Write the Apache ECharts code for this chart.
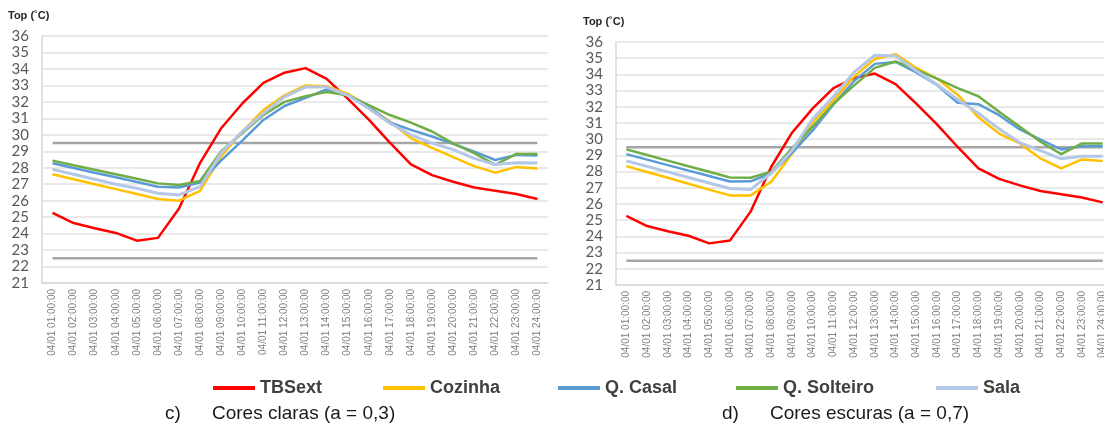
<!DOCTYPE html>
<html><head><meta charset="utf-8">
<script src="https://cdn.jsdelivr.net/npm/echarts@6/dist/echarts.min.js"></script>
<style>html,body{margin:0;padding:0;background:#fff}#c{width:1104px;height:435px}</style>
</head><body><div id="c"></div>
<script>
const categories = ['04/01 01:00:00','04/01 02:00:00','04/01 03:00:00','04/01 04:00:00','04/01 05:00:00','04/01 06:00:00',
  '04/01 07:00:00','04/01 08:00:00','04/01 09:00:00','04/01 10:00:00','04/01 11:00:00','04/01 12:00:00',
  '04/01 13:00:00','04/01 14:00:00','04/01 15:00:00','04/01 16:00:00','04/01 17:00:00','04/01 18:00:00',
  '04/01 19:00:00','04/01 20:00:00','04/01 21:00:00','04/01 22:00:00','04/01 23:00:00','04/01 24:00:00'];

const tbsext = [25.26,24.64,24.32,24.04,23.57,23.74,25.53,28.3,30.4,31.9,33.15,33.77,34.05,33.4,32.2,30.92,29.52,28.2,27.55,27.15,26.8,26.6,26.4,26.1];

// c) Cores claras
const cozinhaC  = [27.6,27.3,27.0,26.7,26.4,26.1,26.0,26.6,28.7,30.2,31.5,32.4,33.0,32.95,32.5,31.7,30.8,29.8,29.2,28.65,28.1,27.7,28.05,27.95];
const casalC    = [28.27,27.98,27.7,27.42,27.13,26.85,26.8,27.1,28.45,29.65,30.9,31.75,32.25,32.75,32.4,31.7,30.75,30.3,29.9,29.45,28.98,28.47,28.78,28.75];
const solteiroC = [28.43,28.15,27.88,27.6,27.33,27.05,26.95,27.2,29.0,30.1,31.2,32.0,32.35,32.6,32.4,31.8,31.2,30.74,30.2,29.48,28.88,28.17,28.84,28.84];
const salaC     = [27.9,27.6,27.3,27.0,26.75,26.45,26.35,26.85,28.9,30.2,31.3,32.3,32.9,32.9,32.4,31.6,30.7,30.0,29.5,29.1,28.57,28.2,28.3,28.28];

// d) Cores escuras
const cozinhaD  = [28.34,27.98,27.62,27.25,26.89,26.53,26.53,27.37,29.1,31.05,32.39,33.88,34.95,35.25,34.4,33.74,32.75,31.35,30.35,29.74,28.81,28.2,28.75,28.66];
const casalD    = [29.08,28.74,28.4,28.06,27.73,27.39,27.4,27.9,29.15,30.54,32.14,33.59,34.65,34.77,34.12,33.35,32.25,32.16,31.48,30.6,29.97,29.37,29.57,29.57];
const solteiroD = [29.37,29.02,28.68,28.33,27.99,27.64,27.62,27.99,29.45,30.78,32.19,33.32,34.4,34.8,34.28,33.74,33.15,32.65,31.7,30.77,29.84,29.08,29.74,29.74];
const salaD     = [28.66,28.32,27.98,27.64,27.3,26.96,26.9,27.9,29.3,31.26,32.64,34.14,35.18,35.13,34.23,33.38,32.45,31.6,30.64,29.78,29.3,28.79,28.95,28.95];

const refLevels = [29.5, 22.5];
const seriesNames = ['TBSext','Cozinha','Q. Casal','Q. Solteiro','Sala'];
const yMin = 21, yMax = 36, yStep = 1;
const yAxisTitle = 'Top (˚C)';
const captionsC = ['c)', 'Cores claras (a = 0,3)'];
const captionsD = ['d)', 'Cores escuras (a = 0,7)'];

const colors = ['#FF0000','#FFC000','#5B9BD5','#70AD47','#B4C7E7'];
const widths = [2.5, 2.5, 2.5, 2.5, 3];
const panels = [
  [tbsext, cozinhaC, casalC, solteiroC, salaC],
  [tbsext, cozinhaD, casalD, solteiroD, salaD]
];

const chart = echarts.init(document.getElementById('c'), null, {renderer:'canvas'});
const FONT = 'Liberation Sans, Arial, sans-serif';

const grids = [
  {left: 42, top: 36, width: 506, height: 247, outerBoundsMode: 'none', containLabel: false},
  {left: 616, top: 42, width: 497, height: 243, outerBoundsMode: 'none', containLabel: false}
];
const xAxes = grids.map((g, i) => ({
  type: 'category', gridIndex: i, data: categories, boundaryGap: true,
  axisLine: {show: true, lineStyle: {color: '#D9D9D9', width: 1.5}},
  axisTick: {show: false},
  axisLabel: {rotate: 90, interval: 0, fontSize: 10, color: '#7F7F7F', margin: 6, fontFamily: FONT},
  splitLine: {show: false}
}));
const yAxes = grids.map((g, i) => ({
  type: 'value', gridIndex: i, min: yMin, max: yMax, interval: yStep,
  axisLine: {show: true, lineStyle: {color: '#D9D9D9', width: 1.5}},
  axisTick: {show: false},
  axisLabel: {fontSize: 15, color: '#595959', margin: 13, fontFamily: 'Lato, ' + FONT},
  splitLine: {show: true, lineStyle: {color: '#E2E2E2', width: 1.5}}
}));

const series = [];
panels.forEach((p, pi) => {
  refLevels.forEach(lvl => {
    series.push({
      type: 'line', xAxisIndex: pi, yAxisIndex: pi, silent: true, symbol: 'none',
      data: categories.map(() => lvl),
      lineStyle: {color: '#A6A6A6', width: 2.5}, z: 1
    });
  });
  p.forEach((d, si) => {
    series.push({
      type: 'line', name: seriesNames[si], xAxisIndex: pi, yAxisIndex: pi,
      data: d, symbol: 'none', showSymbol: false,
      lineStyle: {color: colors[si], width: widths[si]},
      itemStyle: {color: colors[si]}, z: 2 + si
    });
  });
});

const legendLefts = [208, 378, 553, 731, 931];
const legends = seriesNames.map((n, i) => ({
  data: [n], left: legendLefts[i], top: 374, icon: 'rect',
  itemWidth: 42, itemHeight: 4, itemGap: 0, textGap: 3, selectedMode: false,
  textStyle: {fontSize: 18, fontWeight: 'bold', color: '#404040', fontFamily: FONT}
}));

const graphic = [
  {type: 'text', left: 8, top: 10, style: {text: yAxisTitle, font: 'bold 11px ' + FONT, fill: '#262626'}},
  {type: 'text', left: 583, top: 16, style: {text: yAxisTitle, font: 'bold 11px ' + FONT, fill: '#262626'}},
  {type: 'text', left: 165, top: 404, style: {text: captionsC[0], font: '19px ' + FONT, fill: '#1a1a1a'}},
  {type: 'text', left: 212, top: 404, style: {text: captionsC[1], font: '19px ' + FONT, fill: '#1a1a1a'}},
  {type: 'text', left: 722, top: 404, style: {text: captionsD[0], font: '19px ' + FONT, fill: '#1a1a1a'}},
  {type: 'text', left: 770, top: 404, style: {text: captionsD[1], font: '19px ' + FONT, fill: '#1a1a1a'}}
];

chart.setOption({
  animation: false,
  backgroundColor: '#ffffff',
  grid: grids,
  xAxis: xAxes,
  yAxis: yAxes,
  legend: legends,
  series: series,
  graphic: graphic
});
</script>
</body></html>
